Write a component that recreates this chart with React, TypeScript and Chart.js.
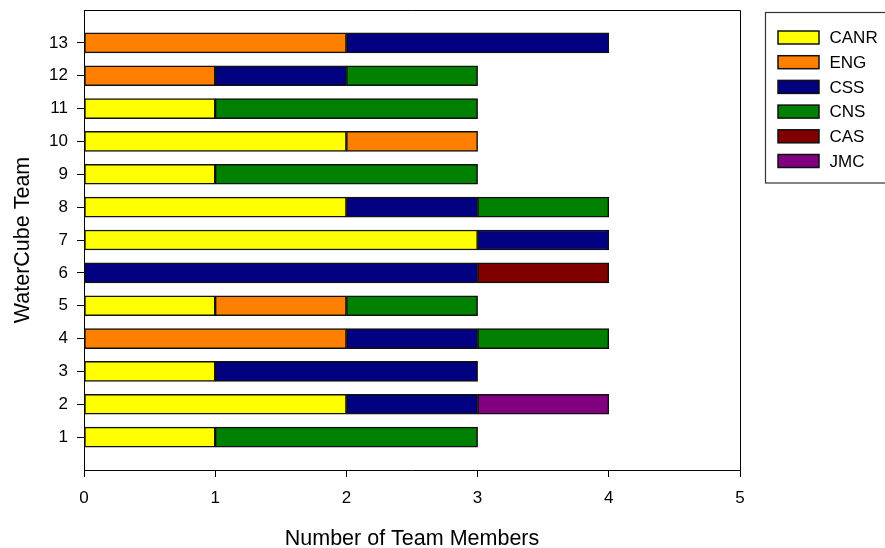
import React, { useEffect, useRef } from "react";
import { Chart, registerables } from "chart.js";

Chart.register(...registerables);

// Team numbers (bottom to top) and member counts per college
const teams = ["1", "2", "3", "4", "5", "6", "7", "8", "9", "10", "11", "12", "13"];
const canr = [1, 2, 1, 0, 1, 0, 3, 2, 1, 2, 1, 0, 0];
const eng = [0, 0, 0, 2, 1, 0, 0, 0, 0, 1, 0, 1, 2];
const css = [0, 1, 2, 1, 0, 3, 1, 1, 0, 0, 0, 1, 2];
const cns = [2, 0, 0, 1, 1, 0, 0, 1, 2, 0, 2, 1, 0];
const cas = [0, 0, 0, 0, 0, 1, 0, 0, 0, 0, 0, 0, 0];
const jmc = [0, 1, 0, 0, 0, 0, 0, 0, 0, 0, 0, 0, 0];

const seriesNames = ["CANR", "ENG", "CSS", "CNS", "CAS", "JMC"];
const seriesColors = ["#FFFF00", "#FF8000", "#000080", "#008000", "#800000", "#800080"];
const seriesValues = [canr, eng, css, cns, cas, jmc];

const xTicks = [0, 1, 2, 3, 4, 5];

const FONT = "'Liberation Sans', Arial, sans-serif";

// Empty slots above and below so the bars sit one step away from the frame
const yLabels = ["", ...teams, ""];
const padSeries = (vals: number[]) => [null, ...vals.map((v) => (v ? v : null)), null];

const framePlugin = {
  id: "frame",
  afterDraw(chart: any) {
    const { ctx, chartArea } = chart;
    ctx.save();
    ctx.strokeStyle = "#000";
    ctx.lineWidth = 1;
    ctx.beginPath();
    ctx.moveTo(chartArea.left, chartArea.top + 0.5);
    ctx.lineTo(chartArea.right + 0.5, chartArea.top + 0.5);
    ctx.lineTo(chartArea.right + 0.5, chartArea.bottom);
    ctx.stroke();
    ctx.restore();
  },
};

const boxLegendPlugin = {
  id: "boxLegend",
  afterDraw(chart: any) {
    const { ctx, chartArea } = chart;
    const datasets = chart.data.datasets;
    const left = chartArea.right + 25.5;
    const top = 12.5;
    const rowH = 24.7;
    ctx.save();
    ctx.strokeStyle = "#333";
    ctx.lineWidth = 1.2;
    ctx.strokeRect(left, top, 130, 170.5);
    ctx.font = `17px ${FONT}`;
    ctx.textBaseline = "middle";
    ctx.textAlign = "left";
    datasets.forEach((ds: any, i: number) => {
      const cy = 37.5 + i * rowH;
      ctx.fillStyle = ds.backgroundColor;
      ctx.fillRect(left + 12.5, cy - 6.5, 41, 13);
      ctx.strokeStyle = "#111";
      ctx.lineWidth = 1.5;
      ctx.strokeRect(left + 12.5, cy - 6.5, 41, 13);
      ctx.fillStyle = "#000";
      ctx.fillText(ds.label, left + 64, cy + 1);
    });
    ctx.restore();
  },
};

export default function App() {
  const canvasRef = useRef<HTMLCanvasElement | null>(null);

  useEffect(() => {
    if (!canvasRef.current) return;
    const chart = new Chart(canvasRef.current, {
      type: "bar",
      data: {
        labels: yLabels,
        datasets: seriesNames.map((name, i) => ({
          label: name,
          data: padSeries(seriesValues[i]),
          backgroundColor: seriesColors[i],
          borderColor: "#111",
          borderWidth: 1.5,
          borderSkipped: false,
          barThickness: 20,
        })),
      },
      options: {
        indexAxis: "y",
        animation: false,
        responsive: false,
        maintainAspectRatio: false,
        layout: { padding: { top: 10, right: 145, left: 0, bottom: 0 } },
        plugins: {
          legend: { display: false },
          tooltip: { enabled: false },
        },
        scales: {
          x: {
            type: "linear",
            stacked: true,
            min: 0,
            max: 5,
            afterBuildTicks: (scale: any) => {
              scale.ticks = xTicks.map((v) => ({ value: v }));
            },
            afterFit: (scale: any) => {
              scale.height = 78;
            },
            grid: {
              drawOnChartArea: false,
              drawTicks: true,
              tickLength: 7,
              color: "#000",
              tickColor: "#000",
            },
            border: { display: true, color: "#000", width: 1 },
            ticks: {
              color: "#000",
              padding: 11,
              font: { family: FONT, size: 17 },
            },
            title: {
              display: true,
              text: "Number of Team Members",
              color: "#000",
              font: { family: FONT, size: 21.5, lineHeight: 0.85 },
              padding: { top: 0, bottom: 0 },
            },
          },
          y: {
            type: "category",
            stacked: true,
            reverse: true,
            offset: false,
            afterFit: (scale: any) => {
              scale.width = 84;
              scale.paddingTop = 0;
              scale.paddingBottom = 0;
            },
            grid: {
              offset: false,
              drawOnChartArea: false,
              drawTicks: true,
              tickLength: 7,
              color: "#000",
              tickColor: (ctx: any) =>
                ctx.index === 0 || ctx.index === yLabels.length - 1 ? "rgba(0,0,0,0)" : "#000",
            },
            border: { display: true, color: "#000", width: 1 },
            ticks: {
              color: "#000",
              padding: 9,
              autoSkip: false,
              font: { family: FONT, size: 17 },
            },
            title: {
              display: true,
              text: "WaterCube Team",
              color: "#000",
              font: { family: FONT, size: 21.5, lineHeight: 1.2 },
              padding: { top: 10, bottom: 0 },
            },
          },
        },
      },
      plugins: [framePlugin, boxLegendPlugin],
    });
    return () => chart.destroy();
  }, []);

  return (
    <div style={{ position: "fixed", left: 0, top: 0, width: 885, height: 548, background: "#fff" }}>
      <canvas ref={canvasRef} width={885} height={548} />
    </div>
  );
}
